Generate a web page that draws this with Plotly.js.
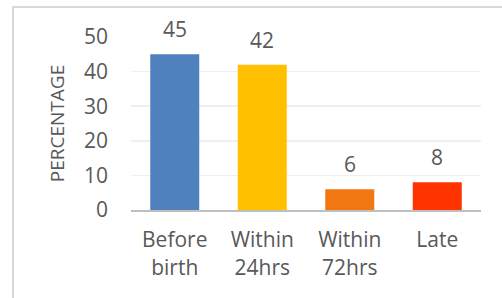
<!DOCTYPE html>
<html>
<head>
<meta charset="utf-8">
<script src="https://cdn.plot.ly/plotly-3.0.1.min.js"></script>
<style>
html,body{margin:0;padding:0;background:#fff;}
#chart{width:502px;height:298px;}
</style>
</head>
<body>
<div id="chart"></div>
<script>
const categories = ["Before<br>birth", "Within<br>24hrs", "Within<br>72hrs", "Late"];
const values = [45, 42, 6, 8];
const barColors = ["#4F81BD", "#FFC000", "#F07712", "#FF3300"];
const yTickVals = [0, 10, 20, 30, 40, 50];

const fontFamily = "'Open Sans', 'Noto Sans', sans-serif";
const textColor = "#595959";

const trace = {
  type: "bar",
  x: categories,
  y: values,
  marker: {color: barColors},
  hoverinfo: "none"
};

const annotations = categories.map((c, i) => ({
  x: c, y: values[i], xref: "x", yref: "y",
  text: String(values[i]), showarrow: false,
  yanchor: "middle", yshift: 25,
  font: {family: fontFamily, size: 21, color: textColor}
}));

const layout = {
  width: 502, height: 298,
  margin: {l: 131, r: 21, t: 37, b: 88, pad: 0},
  paper_bgcolor: "#fff", plot_bgcolor: "#fff",
  bargap: 0.44,
  showlegend: false,
  font: {family: fontFamily, size: 21, color: textColor},
  xaxis: {
    type: "category",
    showgrid: false,
    showline: true, linecolor: "#BFBFBF", linewidth: 2,
    ticks: "", ticklabelstandoff: 10,
    tickfont: {family: fontFamily, size: 21, color: textColor},
    fixedrange: true
  },
  yaxis: {
    range: [0, 50],
    tickvals: yTickVals,
    showgrid: true, gridcolor: "#EFEFEF", gridwidth: 1.5,
    zeroline: false, showline: false,
    ticks: "", ticklabelstandoff: 22,
    tickfont: {family: fontFamily, size: 21, color: textColor},
    title: {text: "PERCENTAGE", font: {family: fontFamily, size: 19, color: textColor}, standoff: 14},
    fixedrange: true
  },
  annotations: annotations,
  shapes: [{
    type: "rect", xref: "paper", yref: "paper",
    x0: (13 - 131) / 350, x1: (520 - 131) / 350,
    y0: -(320 - 210) / 173, y1: 1 + (37 - 7) / 173,
    line: {color: "#D9D9D9", width: 2}, fillcolor: "rgba(0,0,0,0)", layer: "below"
  }]
};

Plotly.newPlot("chart", [trace], layout, {displayModeBar: false, staticPlot: true});
</script>
</body>
</html>
